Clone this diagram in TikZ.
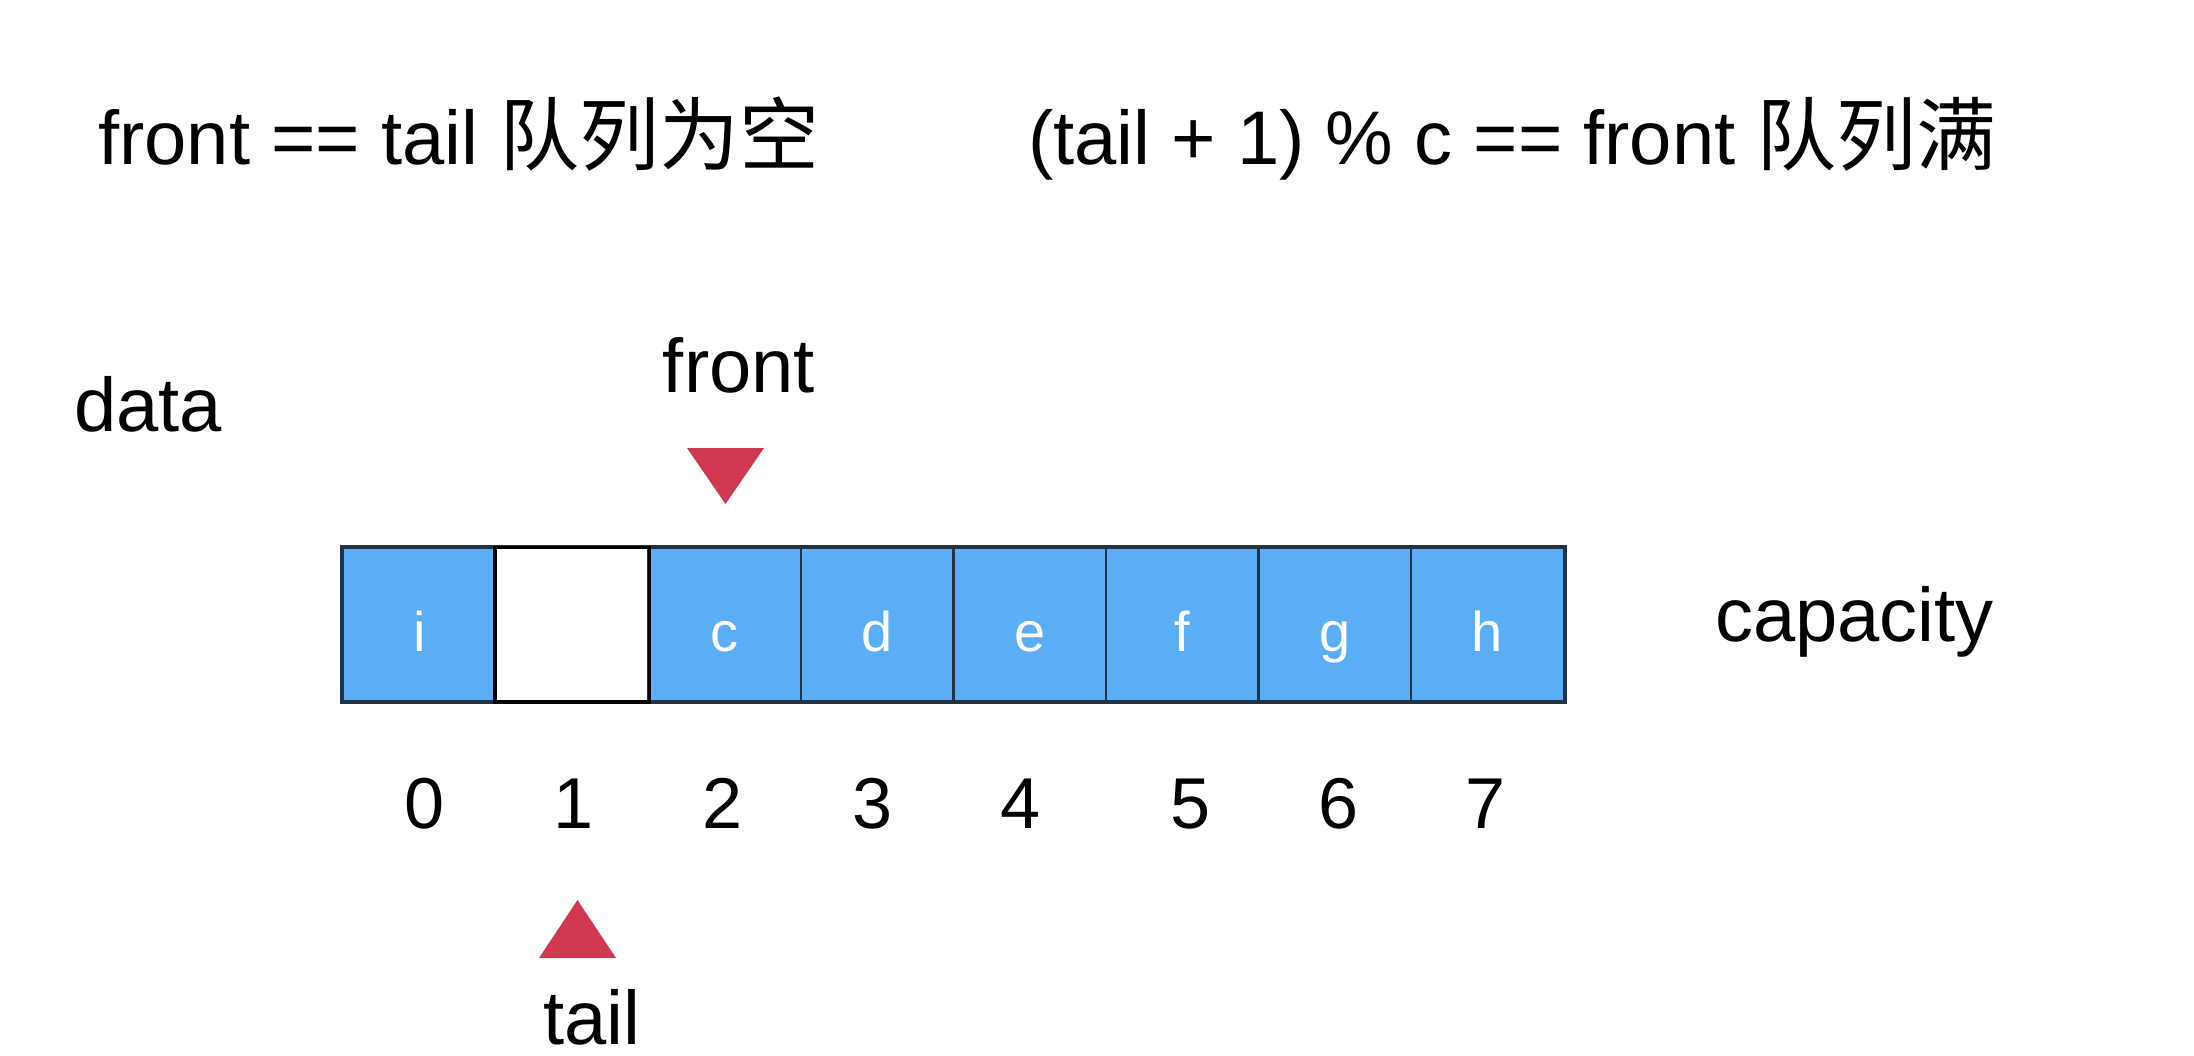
\documentclass[tikz,border=0pt]{standalone}
\usepackage{fontspec}
\setmainfont{Liberation Sans}
\newfontfamily\cjk{Noto Sans CJK SC}
\newcommand\cjktxt[1]{{\cjk\fontsize{80}{84}\selectfont #1}}
\definecolor{cellblue}{RGB}{91,173,246}
\definecolor{cellline}{RGB}{32,52,72}
\definecolor{marker}{RGB}{207,56,80}
\begin{document}
\begin{tikzpicture}[x=1pt,y=-1pt,
  big/.style={inner sep=0pt, anchor=base west, font=\fontsize{76}{80}\selectfont},
  num/.style={inner sep=0pt, anchor=base, font=\fontsize{72}{80}\selectfont},
  cell/.style={draw=cellline, line width=2.5pt, fill=cellblue, minimum width=152.6pt, minimum height=153pt, inner sep=0pt},
  emptycell/.style={cell, draw=black, fill=white},
  celltxt/.style={inner sep=0pt, anchor=base, text=white, font=\fontsize{56}{60}\selectfont}]
\useasboundingbox (0,0) rectangle (2194,1056);
\fill[white] (0,0) rectangle (2194,1056);
% headers
\node[big] (h1) at (98,165) {front == tail \cjktxt{队列为空}};
\node[big] (h2) at (1028,165) {(tail + 1) \% c == front \cjktxt{队列满}};
\node[big] (data) at (74,431) {data};
\node[big] (cap) at (1715,641) {capacity};
% cells
\foreach \i/\t in {0/i,1/,2/c,3/d,4/e,5/f,6/g,7/h}{
  \pgfmathsetmacro{\cx}{343+76.3+152.6*\i}
  \ifnum\i=1
    \node[emptycell] (c\i) at (\cx,624.5) {};
  \else
    \node[cell] (c\i) at (\cx,624.5) {};
    \node[celltxt] (t\i) at (\cx,651) {\t};
  \fi
}
\draw[cellline, line width=3pt] (c0.north west) rectangle (c7.south east);
\draw[black, line width=2.5pt] (c1.north west) rectangle (c1.south east);
% indices
\foreach \i/\x in {0/425,1/574,2/723,3/873,4/1021,5/1191,6/1339,7/1486}{
  \node[num] (n\i) at (\x,828) {\i};
}
% front marker
\node[big, anchor=base] (front) at (739,392) {front};
\coordinate (fa) at (725.5,504);
\fill[marker] (687,448) -- (764,448) -- (fa) -- cycle;
% tail marker
\coordinate (ta) at (577.5,900);
\fill[marker] (539,958) -- (616,958) -- (ta) -- cycle;
\node[big, anchor=base] (tail) at (592,1044) {tail};
\end{tikzpicture}
\end{document}
